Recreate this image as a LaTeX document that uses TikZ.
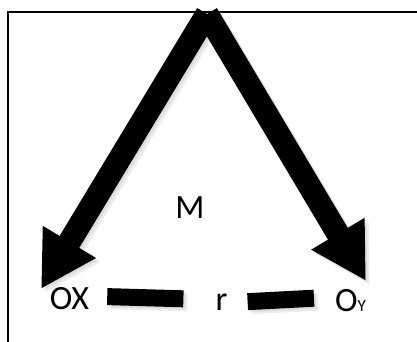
\documentclass[tikz,border=0pt]{standalone}
\usepackage{fontspec}
\setmainfont{Carlito}
\usetikzlibrary{arrows.meta}
\begin{document}
\begin{tikzpicture}[x=1pt, y=-1pt,
    labeltext/.style={inner sep=0pt, anchor=base, font=\fontsize{34}{40}\selectfont},
    bigarrow/.style={line width=23pt, -{Triangle[length=55pt, width=58pt]}},
    barline/.style={line width=17pt}]
    \useasboundingbox (0,0) rectangle (417,342);

    % frame
    \draw[line width=2pt] (8,345) -- (8,12) -- (420,12);

    % labels
    \node[labeltext] (m) at (190,218) {M};
    \node[labeltext] (ox) at (69.5,309) {OX};
    \node[labeltext] (r) at (221.5,310) {r};
    \node[labeltext] (oy) at (350.5,311) {O{\fontsize{17}{20}\selectfont Y}};

    % arrows from the apex
    \coordinate (top) at (207,14);
    \coordinate (oxtip) at (41,289);
    \coordinate (oytip) at (366,281);

    % soft shadow
    \foreach \d in {2,4} {
        \begin{scope}[transform canvas={xshift=\d pt, yshift=-\d pt}, black!30, opacity=0.25]
            \draw[bigarrow] (top) -- (oxtip);
            \draw[bigarrow] (top) -- (oytip);
            \draw[barline, shorten <=18pt, shorten >=32pt] ([yshift=2pt]ox.east) -- ([yshift=2pt]r.west);
            \draw[barline, shorten <=20pt, shorten >=21pt] ([yshift=-1pt]r.east) -- ([yshift=3pt]oy.west);
        \end{scope}
    }

    \draw[bigarrow] (top) -- (oxtip);
    \draw[bigarrow] (top) -- (oytip);

    % bars between the labels
    \draw[barline, shorten <=18pt, shorten >=32pt] ([yshift=2pt]ox.east) -- ([yshift=2pt]r.west);
    \draw[barline, shorten <=20pt, shorten >=21pt] ([yshift=-1pt]r.east) -- ([yshift=3pt]oy.west);
\end{tikzpicture}
\end{document}
